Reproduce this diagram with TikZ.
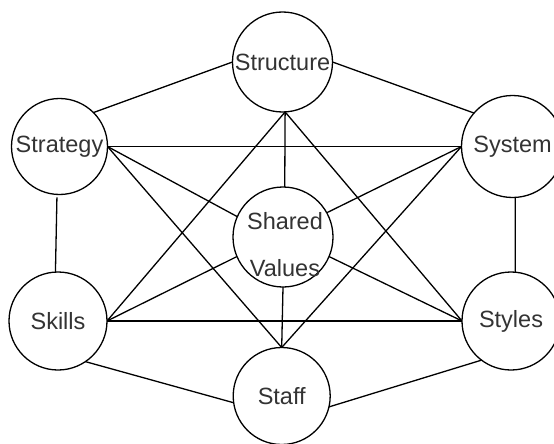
\documentclass[tikz,border=0pt]{standalone}
\usepackage{fontspec}
\setmainfont{Liberation Sans}
\usetikzlibrary{backgrounds}
\begin{document}
\begin{tikzpicture}[x=1pt,y=-1pt,
  ring/.style={circle,draw=black,line width=1.3pt,fill=white,inner sep=0pt,outer sep=0pt,
    text=black!80,font=\fontsize{23.5}{28}\selectfont},
  link/.style={draw=black,line width=1.3pt},
  lbl/.style={inner sep=0pt,text=black!80,font=\fontsize{23.5}{28}\selectfont,align=center}]
\useasboundingbox (0,0) rectangle (554,444);
\node[ring,minimum size=100pt] (Structure) at (282.5,62) {Structure};
\node[ring,minimum size=96pt] (Strategy) at (59.5,146.5) {Strategy};
\node[ring,minimum size=102pt] (System) at (512.5,146.5) {System};
\node[ring,minimum size=100pt] (Shared) at (283,237) {};
\node[lbl] (SharedText) at (285,245) {Shared\\[19pt]Values};
\node[ring,minimum size=98pt] (Skills) at (58,321) {Skills};
\node[ring,minimum size=98pt] (Styles) at (511,321) {Styles};
\node[ring,minimum size=97pt] (Staff) at (281.7,396) {Staff};
\begin{pgfonlayer}{background}
\draw[link] (Structure.west) -- (Strategy.45);
\draw[link] (Structure.east) -- (System.139);
\draw[link] (Strategy.east) -- (System.west);
\draw[link,shorten <=3pt] (Strategy.-93) -- (Skills.93);
\draw[link] (System.-87) -- (Styles.85);
\draw[link] (Skills.east) -- (Styles.west);
\draw[link] (Skills.-56) -- (Staff.188);
\draw[link] (Styles.233) -- (Staff.347);
\draw[link] (Structure.-87) -- (Shared.88);
\draw[link] (Shared.south) -- (Staff.north);
\draw[link] (Structure.-87) -- (Skills.east);
\draw[link] (Structure.-87) -- (Styles.west);
\draw[link] (Strategy.east) -- (Staff.north);
\draw[link] (System.west) -- (Staff.north);
\draw[link] (Strategy.east) -- (Shared.156);
\draw[link] (System.west) -- (Shared.29);
\draw[link] (Skills.east) -- (Shared.203);
\draw[link] (Styles.west) -- (Shared.337);
\end{pgfonlayer}
\end{tikzpicture}
\end{document}
